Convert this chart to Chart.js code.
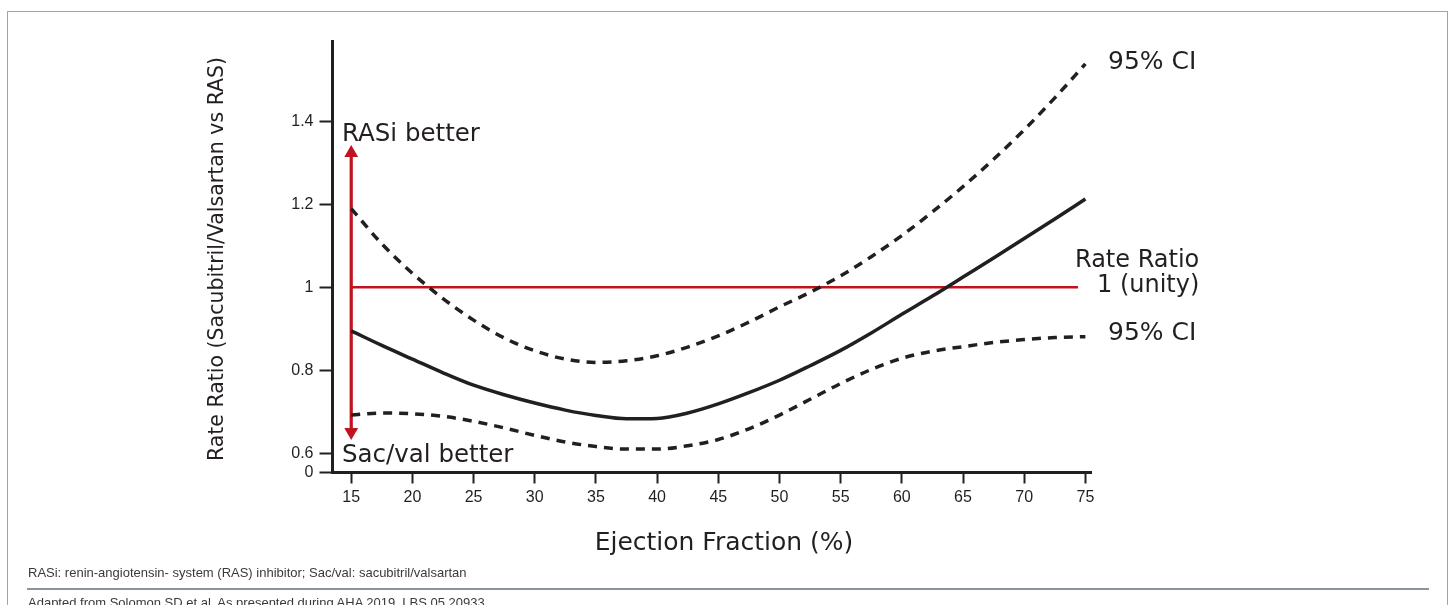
<!DOCTYPE html>
<html>
<head>
<meta charset="utf-8">
<script src="https://cdn.jsdelivr.net/npm/chart.js@4.4.1/dist/chart.umd.min.js"></script>
<style>
  html, body { margin: 0; padding: 0; background: #fff; width: 1450px; height: 605px; overflow: hidden; }
  #frame { position: absolute; left: 7px; top: 11px; width: 1441px; height: 700px; border: 1px solid #a3a3a3; box-sizing: border-box; }
  #chart { position: absolute; left: 0; top: 0; }
  .note { position: absolute; left: 28px; font: 13px "Liberation Sans", Arial, sans-serif; color: #3a3a3a; white-space: nowrap; line-height: 15px; }
  #rule { position: absolute; left: 27px; top: 588px; width: 1402px; height: 2px; background: #8d949b; }
</style>
</head>
<body>
<div id="frame"></div>
<canvas id="chart" width="1450" height="605"></canvas>
<div class="note" style="top:565px">RASi: renin-angiotensin- system (RAS) inhibitor; Sac/val: sacubitril/valsartan</div>
<div id="rule"></div>
<div class="note" style="top:595px">Adapted from Solomon SD et al. As presented during AHA 2019, LBS.05.20933.</div>

<script>
// Ejection fraction (%) sample points and the modelled rate ratio with its 95% CI
const efPoints  = [15, 17.5, 20, 22.5, 25, 27.5, 30, 32.5, 35, 37.5, 40, 42.5, 45,
                   47.5, 50, 52.5, 55, 57.5, 60, 62.5, 65, 67.5, 70, 72.5, 75];
const rateRatio = [0.895, 0.860, 0.827, 0.794, 0.764, 0.741, 0.721, 0.704, 0.691, 0.683, 0.684, 0.697, 0.719,
                   0.746, 0.776, 0.811, 0.848, 0.890, 0.935, 0.979, 1.025, 1.071, 1.118, 1.165, 1.213];
const upperCI   = [1.190, 1.105, 1.034, 0.973, 0.921, 0.878, 0.847, 0.827, 0.819, 0.823, 0.835, 0.856, 0.883,
                   0.916, 0.953, 0.988, 1.028, 1.074, 1.125, 1.182, 1.243, 1.309, 1.380, 1.457, 1.539];
const lowerCI   = [0.692, 0.697, 0.695, 0.689, 0.677, 0.661, 0.643, 0.627, 0.616, 0.610, 0.610, 0.618, 0.633,
                   0.659, 0.692, 0.730, 0.768, 0.802, 0.829, 0.846, 0.857, 0.867, 0.874, 0.879, 0.881];

// Unity reference line (rate ratio = 1) and the direction arrow at EF 15%
const unityValue = 1;
const unitySpan  = [15, 74.4];
const arrowEF    = 15;
const arrowSpan  = [0.651, 1.324];

// Axes: the rate-ratio axis is broken, its floor is labelled 0
const xRange      = [13.47, 75.5];
const yRange      = [0.5535, 1.593];
const xTickValues = [15, 20, 25, 30, 35, 40, 45, 50, 55, 60, 65, 70, 75];
const yTickValues = [0.5535, 0.6, 0.8, 1, 1.2, 1.4];
const yTickLabels = ['0', '0.6', '0.8', '1', '1.2', '1.4'];

const ink = '#231f20';
const red = '#c1121f';
const textFont = '"DejaVu Sans", "Noto Sans", sans-serif';
const tickFont = { family: '"Liberation Sans", Arial, sans-serif', size: 16 };

const pairs = ys => efPoints.map((x, i) => ({ x, y: ys[i] }));

// Axis titles and in-plot annotations
const textLayout = [
  { text: 'RASi better',    x: 342,  y: 141, size: 24.5 },
  { text: 'Sac/val better', x: 342,  y: 462, size: 24.5 },
  { text: '95% CI',         x: 1108, y: 69,  size: 25 },
  { text: 'Rate Ratio',     x: 1075, y: 267, size: 24 },
  { text: '1 (unity)',      x: 1097, y: 292, size: 24 },
  { text: '95% CI',         x: 1108, y: 340, size: 25 }
];
const xTitle = { text: 'Ejection Fraction (%)', x: 724, y: 550, size: 25 };
const yTitle = { text: 'Rate Ratio (Sacubitril/Valsartan vs RAS)', x: 223, y: 259, size: 20.5 };

const textPlugin = {
  id: 'chartText',
  afterDraw(chart) {
    const ctx = chart.ctx;
    ctx.save();
    ctx.fillStyle = ink;
    ctx.textBaseline = 'alphabetic';
    ctx.textAlign = 'left';
    textLayout.forEach(t => {
      ctx.font = t.size + 'px ' + textFont;
      ctx.fillText(t.text, t.x, t.y);
    });
    ctx.textAlign = 'center';
    ctx.font = xTitle.size + 'px ' + textFont;
    ctx.fillText(xTitle.text, xTitle.x, xTitle.y);
    ctx.translate(yTitle.x, yTitle.y);
    ctx.rotate(-Math.PI / 2);
    ctx.font = yTitle.size + 'px ' + textFont;
    ctx.fillText(yTitle.text, 0, 0);
    ctx.restore();
  }
};

const curve = { borderColor: ink, borderWidth: 3.5, cubicInterpolationMode: 'monotone', pointRadius: 0 };

new Chart(document.getElementById('chart'), {
  type: 'line',
  data: {
    datasets: [
      { ...curve, data: pairs(rateRatio) },
      { ...curve, data: pairs(upperCI), borderDash: [9, 7] },
      { ...curve, data: pairs(lowerCI), borderDash: [9, 7] },
      { data: unitySpan.map(x => ({ x, y: unityValue })), borderColor: red, borderWidth: 2.5, pointRadius: 0 },
      {
        data: arrowSpan.map(y => ({ x: arrowEF, y })),
        borderColor: red, borderWidth: 3.2,
        pointStyle: 'triangle', pointRadius: 8, pointRotation: [180, 0],
        pointBackgroundColor: red, pointBorderWidth: 0
      }
    ]
  },
  options: {
    responsive: false,
    animation: false,
    devicePixelRatio: 1,
    layout: { padding: { left: 242.5, top: 41.5, right: 358.5, bottom: 72.5 } },
    plugins: { legend: { display: false }, tooltip: { enabled: false } },
    scales: {
      x: {
        type: 'linear', min: xRange[0], max: xRange[1],
        afterFit(scale) { scale.height = 60; },
        afterBuildTicks(scale) { scale.ticks = xTickValues.map(value => ({ value })); },
        ticks: { autoSkip: false, color: ink, font: tickFont, padding: 4, maxRotation: 0, callback: v => String(v) },
        grid: { drawOnChartArea: false, drawTicks: true, tickLength: 11, tickWidth: 2, tickColor: ink },
        border: { display: true, color: ink, width: 3 }
      },
      y: {
        type: 'linear', min: yRange[0], max: yRange[1],
        afterFit(scale) { scale.width = 90; },
        afterBuildTicks(scale) { scale.ticks = yTickValues.map(value => ({ value })); },
        ticks: { autoSkip: false, color: ink, font: tickFont, padding: 6, callback: (v, i) => yTickLabels[i] },
        grid: { drawOnChartArea: false, drawTicks: true, tickLength: 13, tickWidth: 2, tickColor: ink },
        border: { display: true, color: ink, width: 3 }
      }
    }
  },
  plugins: [textPlugin]
});
</script>
</body>
</html>
